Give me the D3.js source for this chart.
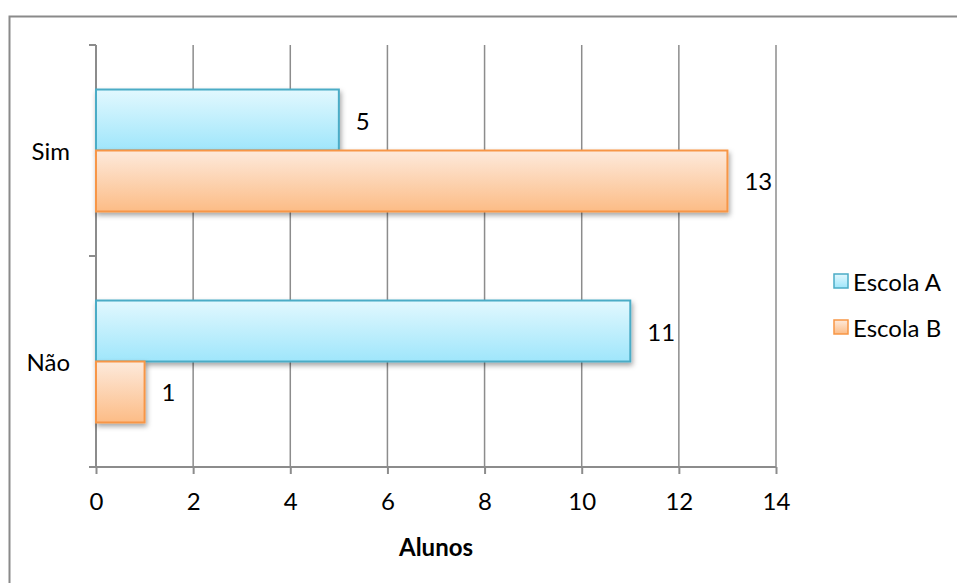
<!DOCTYPE html>
<html>
<head>
<meta charset="utf-8">
<script src="https://cdn.jsdelivr.net/npm/d3@7"></script>
<style>
  body { margin: 0; background: #fff; }
  text { font-family: Lato, "Open Sans", sans-serif; fill: #000; }
</style>
</head>
<body>
<div id="chart"></div>
<script>
var categories = ["Sim", "Não"];
var series = ["Escola A", "Escola B"];
var escolaA = [5, 11];
var escolaB = [13, 1];
var xTicks = [0, 2, 4, 6, 8, 10, 12, 14];

var W = 957, H = 583;
var margin = { top: 45, left: 96, right: 181, bottom: 116 };
var fontSize = "24px";

var svg = d3.select("#chart").append("svg")
    .attr("width", W)
    .attr("height", H);

var defs = svg.append("defs");

//gradients for the bars
var grads = [
    { id: "gA", top: "#e2f8fe", bottom: "#9fe6fb" },
    { id: "gB", top: "#fdeadc", bottom: "#fcbc86" }
];
grads.forEach(function (g) {
    var lg = defs.append("linearGradient")
        .attr("id", g.id)
        .attr("x1", 0).attr("y1", 0).attr("x2", 0).attr("y2", 1);
    lg.append("stop").attr("offset", "0%").attr("stop-color", g.top);
    lg.append("stop").attr("offset", "100%").attr("stop-color", g.bottom);
});

var shadow = defs.append("filter").attr("id", "shadow")
    .attr("x", "-10%").attr("y", "-10%").attr("width", "130%").attr("height", "140%");
shadow.append("feDropShadow")
    .attr("dx", 1.5).attr("dy", 3).attr("stdDeviation", 2.5)
    .attr("flood-color", "#000").attr("flood-opacity", 0.35);

//outer border
svg.append("rect")
    .attr("x", 9.5).attr("y", 16.5)
    .attr("width", W).attr("height", H)
    .attr("fill", "none")
    .attr("stroke", "#8a8a8a")
    .attr("stroke-width", 2);

var x = d3.scaleLinear()
    .domain([0, 14])
    .range([margin.left, W - margin.right]);

var y = d3.scaleBand()
    .domain(categories)
    .range([margin.top, H - margin.bottom]);

var ySub = d3.scaleBand()
    .domain(series)
    .range([0, y.bandwidth()])
    .paddingOuter(0.73)
    .paddingInner(0);

//vertical gridlines
svg.selectAll("line.grid")
    .data(xTicks.slice(1))
    .enter()
    .append("line")
    .attr("x1", function (d) { return x(d); })
    .attr("x2", function (d) { return x(d); })
    .attr("y1", margin.top)
    .attr("y2", H - margin.bottom)
    .attr("stroke", "#8c8c8c")
    .attr("stroke-width", 1.5);

//bottom axis
var xAxis = svg.append("g")
    .attr("transform", "translate(0," + (H - margin.bottom) + ")")
    .call(d3.axisBottom(x).tickValues(xTicks).tickSize(7).tickPadding(19));
xAxis.select(".domain").attr("stroke", "#8c8c8c").attr("stroke-width", 2)
    .attr("d", "M" + (margin.left - 7) + ",0H" + x(14));
xAxis.selectAll(".tick line").attr("stroke", "#8c8c8c").attr("stroke-width", 2);
xAxis.selectAll(".tick text").style("font-size", fontSize).attr("fill", "#000");

//left axis line with category separators
svg.append("line")
    .attr("x1", margin.left).attr("x2", margin.left)
    .attr("y1", margin.top).attr("y2", H - margin.bottom)
    .attr("stroke", "#8c8c8c").attr("stroke-width", 2);
var seps = [margin.top].concat(categories.map(function (c) { return y(c) + y.bandwidth(); }));
svg.selectAll("line.sep")
    .data(seps)
    .enter()
    .append("line")
    .attr("x1", margin.left - 7).attr("x2", margin.left)
    .attr("y1", function (d) { return d; })
    .attr("y2", function (d) { return d; })
    .attr("stroke", "#8c8c8c").attr("stroke-width", 2);

svg.selectAll("text.cat")
    .data(categories)
    .enter()
    .append("text")
    .attr("x", margin.left - 26)
    .attr("y", function (d) { return y(d) + y.bandwidth() / 2; })
    .attr("text-anchor", "end")
    .attr("dominant-baseline", "central")
    .style("font-size", fontSize)
    .text(function (d) { return d; });

//bars
var data = [];
categories.forEach(function (c, i) {
    data.push({ cat: c, s: "Escola A", v: escolaA[i], fill: "url(#gA)", stroke: "#4bacc6" });
    data.push({ cat: c, s: "Escola B", v: escolaB[i], fill: "url(#gB)", stroke: "#f79646" });
});

svg.selectAll("rect.bar")
    .data(data)
    .enter()
    .append("rect")
    .attr("x", x(0))
    .attr("y", function (d) { return y(d.cat) + ySub(d.s); })
    .attr("width", function (d) { return x(d.v) - x(0); })
    .attr("height", ySub.bandwidth())
    .attr("fill", function (d) { return d.fill; })
    .attr("stroke", function (d) { return d.stroke; })
    .attr("stroke-width", 2)
    .attr("filter", "url(#shadow)");

svg.selectAll("text.val")
    .data(data)
    .enter()
    .append("text")
    .attr("x", function (d) { return x(d.v) + 17; })
    .attr("y", function (d) { return y(d.cat) + ySub(d.s) + ySub.bandwidth() / 2; })
    .attr("dominant-baseline", "central")
    .style("font-size", fontSize)
    .text(function (d) { return d.v; });

//axis title
svg.append("text")
    .attr("x", (x(0) + x(14)) / 2)
    .attr("y", 546)
    .attr("text-anchor", "middle")
    .attr("dominant-baseline", "central")
    .style("font-size", fontSize)
    .style("font-weight", "bold")
    .text("Alunos");

//legend
var legend = svg.selectAll("g.leg")
    .data(series)
    .enter()
    .append("g")
    .attr("transform", function (d, i) { return "translate(834," + (281 + i * 46) + ")"; });
legend.append("rect")
    .attr("x", 0).attr("y", -7)
    .attr("width", 14).attr("height", 14)
    .attr("fill", function (d, i) { return i ? "url(#gB)" : "url(#gA)"; })
    .attr("stroke", function (d, i) { return i ? "#f79646" : "#4bacc6"; })
    .attr("stroke-width", 1.5);
legend.append("text")
    .attr("x", 19)
    .attr("y", 0)
    .attr("dominant-baseline", "central")
    .style("font-size", fontSize)
    .text(function (d) { return d; });
</script>
</body>
</html>
